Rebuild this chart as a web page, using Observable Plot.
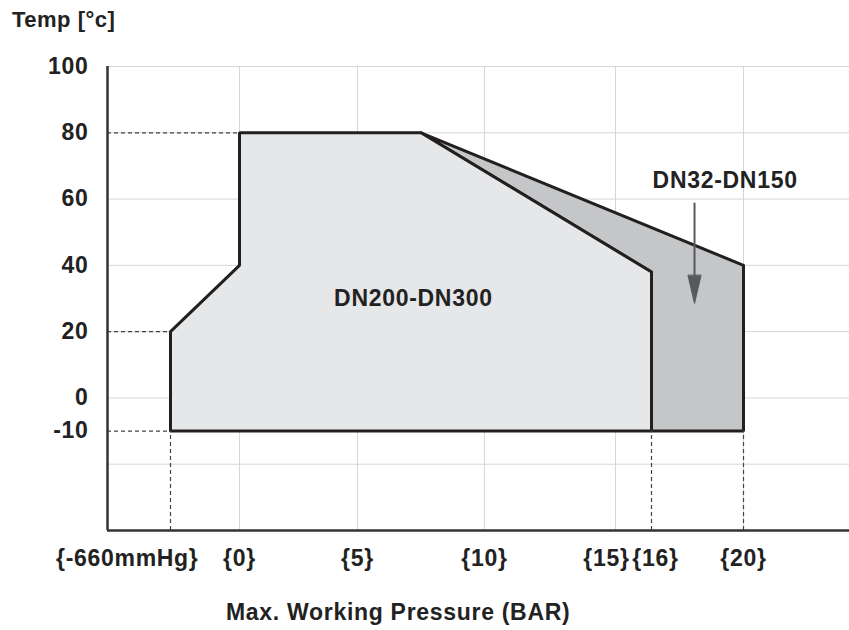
<!DOCTYPE html>
<html>
<head>
<meta charset="utf-8">
<script src="https://cdn.jsdelivr.net/npm/d3@7"></script>
<script src="https://cdn.jsdelivr.net/npm/@observablehq/plot@0.6"></script>
<style>
  body { margin: 0; background: #fff; font-family: "Liberation Sans", Arial, sans-serif; }
  #title { height: 40px; line-height: 40px; padding-left: 12px; font-weight: bold; font-size: 22px; color: #222; letter-spacing: 0.5px; }
  #xlabel { height: 40px; line-height: 44px; padding-left: 226px; font-weight: bold; font-size: 23px; color: #222; letter-spacing: 0.7px; }
  #chart svg text { letter-spacing: 0.7px; }
</style>
</head>
<body>
<div id="title">Temp [°c]</div>
<div id="chart"></div>
<div id="xlabel">Max. Working Pressure (BAR)</div>
<script>
// ---- data ----
const pressureTicks = [-0.88, 0, 5, 10, 15, 16, 20];
const pressureLabels = ["{-660mmHg}", "{0}", "{5}", "{10}", "{15}", "{16}", "{20}"];
const tempTicks = [100, 80, 60, 40, 20, 0, -10];
const gridTemps = [100, 80, 60, 40, 20, 0, -20];
const gridPressures = [0, 5, 10, 15, 20];

const dn200Pressure = [-0.88, -0.88, 0, 0, 7.5, 16, 16];
const dn200Temp     = [-10, 20, 40, 80, 80, 38, -10];
const dn32Pressure  = [7.5, 20, 20, 16, 16];
const dn32Temp      = [80, 40, -10, -10, 38];

const dashH = [{t: 80, p: 0}, {t: 20, p: -0.88}, {t: -10, p: -0.88}];
const dashV = [-0.88, 16, 20];

const labelDN200 = {p: 7.2, t: 30, text: "DN200-DN300"};
const labelDN32 = {p: 19.2, t: 65.6, text: "DN32-DN150"};
const arrowDN32 = {p: 17.87, from: 58.9, to: 28.5};

// ---- scale configuration (non-uniform pressure axis of the original) ----
const xMin = -2.5, xMax = 24;
const xDomain = [xMin, ...pressureTicks, xMax];
const xRange = [107, 170, 239, 357, 484, 615, 651, 743, 849];

const poly = (ps, ts) => {
  const pts = ps.map((p, i) => ({p, t: ts[i]}));
  pts.push(pts[0], pts[1]);
  return pts;
};
const dn200 = poly(dn200Pressure, dn200Temp);
const dn32 = poly(dn32Pressure, dn32Temp);
const xTickData = pressureTicks.map((p, i) => ({p, label: pressureLabels[i]}));

const headShape = {
  draw(context, l) {
    context.moveTo(-6.5, 0);
    context.lineTo(0, -l);
    context.lineTo(6.5, 0);
    context.closePath();
  }
};

const ink = "#231f20";
const txt = {fontSize: 23, fontWeight: "bold", fill: "#222"};

const chart = Plot.plot({
  width: 849,
  height: 550,
  marginTop: 26,
  marginBottom: 60,
  marginLeft: 107,
  marginRight: 0,
  x: {type: "linear", domain: xDomain, range: xRange, axis: null},
  y: {domain: [-40, 100], axis: null},
  style: {fontFamily: "'Liberation Sans', Arial, sans-serif", background: "#fff", overflow: "visible"},
  marks: [
    Plot.ruleY(gridTemps, {stroke: "#d6d6d6", strokeWidth: 1}),
    Plot.ruleX(gridPressures, {y1: -40, y2: 100, stroke: "#d6d6d6", strokeWidth: 1}),
    Plot.line(dn32, {x: "p", y: "t", fill: "#c5c6c8", stroke: ink, strokeWidth: 3, strokeLinejoin: "miter"}),
    Plot.line(dn200, {x: "p", y: "t", fill: "#e6e7e9", stroke: ink, strokeWidth: 3, strokeLinejoin: "miter"}),
    Plot.ruleY(dashH, {y: "t", x1: xMin, x2: "p", stroke: "#444", strokeWidth: 1.2, strokeDasharray: "4,3"}),
    Plot.ruleX(dashV, {x: d => d, y1: -40, y2: -10, stroke: "#444", strokeWidth: 1.2, strokeDasharray: "4,3"}),
    Plot.ruleX([xMin], {y1: -40, y2: 100, stroke: "#333", strokeWidth: 2.5}),
    Plot.ruleY([-40], {x1: xMin, x2: xMax, stroke: "#333", strokeWidth: 2.5}),
    // y tick labels
    Plot.text(tempTicks, {y: d => d, frameAnchor: "left", text: d => String(d), textAnchor: "end", dx: -19, ...txt}),
    // x tick labels
    Plot.text(xTickData.filter(d => d.p < 0), {x: "p", frameAnchor: "bottom", dy: 35, text: "label", textAnchor: "end", dx: 28, ...txt}),
    Plot.text(xTickData.filter(d => d.p >= 0 && d.p !== 15 && d.p !== 16), {x: "p", frameAnchor: "bottom", dy: 35, text: "label", ...txt}),
    Plot.text(xTickData.filter(d => d.p === 15), {x: "p", frameAnchor: "bottom", dy: 35, text: "label", dx: -9, ...txt}),
    Plot.text(xTickData.filter(d => d.p === 16), {x: "p", frameAnchor: "bottom", dy: 35, text: "label", dx: 4, ...txt}),
    // annotations
    Plot.text([labelDN200], {x: "p", y: "t", text: "text", ...txt}),
    Plot.text([labelDN32], {x: "p", y: "t", text: "text", ...txt}),
    Plot.link([arrowDN32], {x1: "p", x2: "p", y1: "from", y2: d => d.to + 4, stroke: "#58595b", strokeWidth: 2}),
    Plot.vector([arrowDN32], {x: "p", y: "to", length: 28, rotate: 180, anchor: "end", shape: headShape, fill: "#58595b", stroke: "#58595b", strokeWidth: 1})
  ]
});
document.getElementById("chart").appendChild(chart);
</script>
</body>
</html>
